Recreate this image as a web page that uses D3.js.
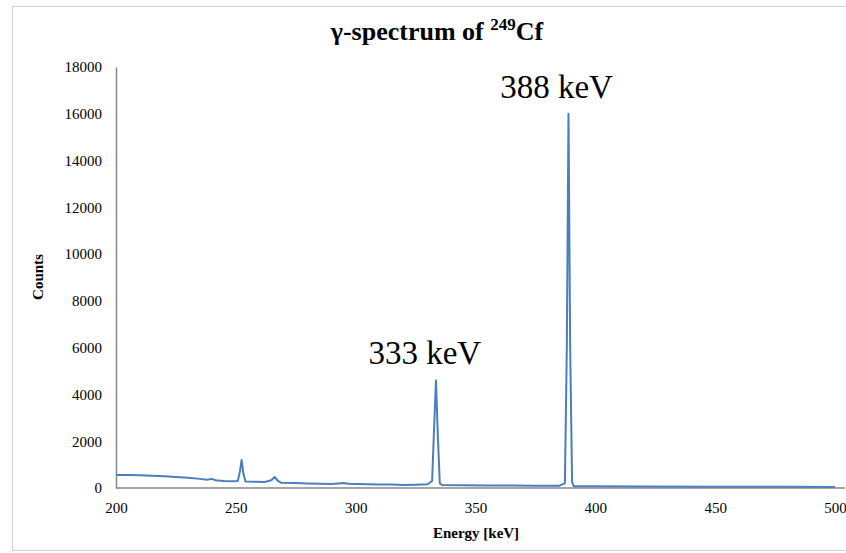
<!DOCTYPE html>
<html>
<head>
<meta charset="utf-8">
<script src="https://cdn.jsdelivr.net/npm/d3@7"></script>
<style>
  body { margin: 0; background: #fff; overflow: hidden; }
  svg text { font-family: "Liberation Serif", "Times New Roman", Times, serif !important; fill: #000; }
</style>
</head>
<body>
<div id="chart"></div>
<script>
// spectrum (keV, counts)
let energy = [200, 205, 210, 215, 220, 225, 230, 235, 238, 240, 241.5, 245, 249, 250.8, 251.7, 252.4, 253.1, 254, 258, 262, 264.8, 266.2, 267.6, 269, 275, 280, 285, 290, 295, 297, 305, 310, 315, 320, 325, 330, 331.9, 332.7, 333.5, 334.3, 335.1, 336, 345, 355, 365, 375, 385, 387.3, 388.1, 388.8, 389.5, 390.3, 391, 400, 420, 450, 480, 500];
let counts = [560, 555, 540, 520, 500, 470, 440, 390, 350, 390, 330, 300, 290, 300, 700, 1200, 650, 280, 270, 260, 330, 470, 300, 220, 210, 190, 180, 170, 210, 180, 160, 150, 150, 130, 140, 160, 300, 2500, 4600, 2200, 200, 130, 120, 110, 110, 100, 100, 200, 6000, 16000, 6000, 250, 80, 70, 60, 50, 50, 45];

let yTicks = [0, 2000, 4000, 6000, 8000, 10000, 12000, 14000, 16000, 18000];
let xTicks = [200, 250, 300, 350, 400, 450, 500];
let peakLabels = [{ text: "333 keV", e: 333 }, { text: "388 keV", e: 388 }];
let peakHeights = [4600, 16000];

let svgWidth = 846;
let svgHeight = 553;

let margin = { top: 67, right: 11, bottom: 65, left: 116 };
let plot_width = svgWidth - margin.left - margin.right;
let plot_height = svgHeight - margin.top - margin.bottom;

let svg = d3.select("#chart")
  .append("svg")
  .attr("width", svgWidth)
  .attr("height", svgHeight);

// outer frame
svg.append("rect")
  .attr("x", 12.5).attr("y", 6.5)
  .attr("width", 900).attr("height", 544)
  .attr("fill", "none")
  .attr("stroke", "#d0d0d0");

let chartGroup = svg.append("g")
  .attr("transform", `translate(${margin.left}, ${margin.top})`);

let xScale = d3.scaleLinear().domain([200, 500]).range([0, plot_width]);
let yScale = d3.scaleLinear().domain([0, 18000]).range([plot_height, 0]);

let bottomAxis = d3.axisBottom(xScale).tickValues(xTicks).tickSize(0).tickPadding(14).tickFormat(d3.format("d"));
let leftAxis = d3.axisLeft(yScale).tickValues(yTicks).tickSize(0).tickPadding(14).tickFormat(d3.format("d"));

let xg = chartGroup.append("g")
  .attr("transform", `translate(0, ${plot_height})`)
  .call(bottomAxis);
let yg = chartGroup.append("g").call(leftAxis);

[xg, yg].forEach(g => {
  g.attr("font-family", null);
  g.select(".domain").attr("stroke", "#868686").attr("stroke-width", 1.5);
  g.selectAll("text")
    .style("font-size", "15px")
    .attr("fill", "#000");
});
xg.select(".domain").attr("d", `M0,0H${plot_width + 10}`);

let line = d3.line()
  .x((d, i) => xScale(energy[i]))
  .y(d => yScale(d));

chartGroup.append("path")
  .datum(counts)
  .attr("d", line)
  .attr("fill", "none")
  .attr("stroke", "#4a7ebf")
  .attr("stroke-width", 2)
  .attr("stroke-linejoin", "round");

// peak labels
chartGroup.selectAll(".peak")
  .data(peakLabels)
  .enter()
  .append("text")
  .attr("class", "peak")
  .attr("x", d => xScale(d.e) - 10)
  .attr("y", (d, i) => yScale(peakHeights[i]) - 16)
  .attr("text-anchor", "middle")
  .style("font-size", "33px")
  .text(d => d.text);

// title
let title = svg.append("text")
  .attr("x", 437)
  .attr("y", 40)
  .attr("text-anchor", "middle")
  .style("font-size", "26px")
  .style("font-weight", "bold");
title.append("tspan").text("γ-spectrum of ");
title.append("tspan").attr("dy", -10).style("font-size", "17px").text("249");
title.append("tspan").attr("dy", 10).text("Cf");

// axis labels
svg.append("text")
  .attr("transform", "rotate(-90)")
  .attr("x", -277)
  .attr("y", 43)
  .attr("text-anchor", "middle")
  .style("font-size", "15px")
  .style("font-weight", "bold")
  .text("Counts");

svg.append("text")
  .attr("x", 476)
  .attr("y", 538)
  .attr("text-anchor", "middle")
  .style("font-size", "15px")
  .style("font-weight", "bold")
  .text("Energy [keV]");
</script>
</body>
</html>
